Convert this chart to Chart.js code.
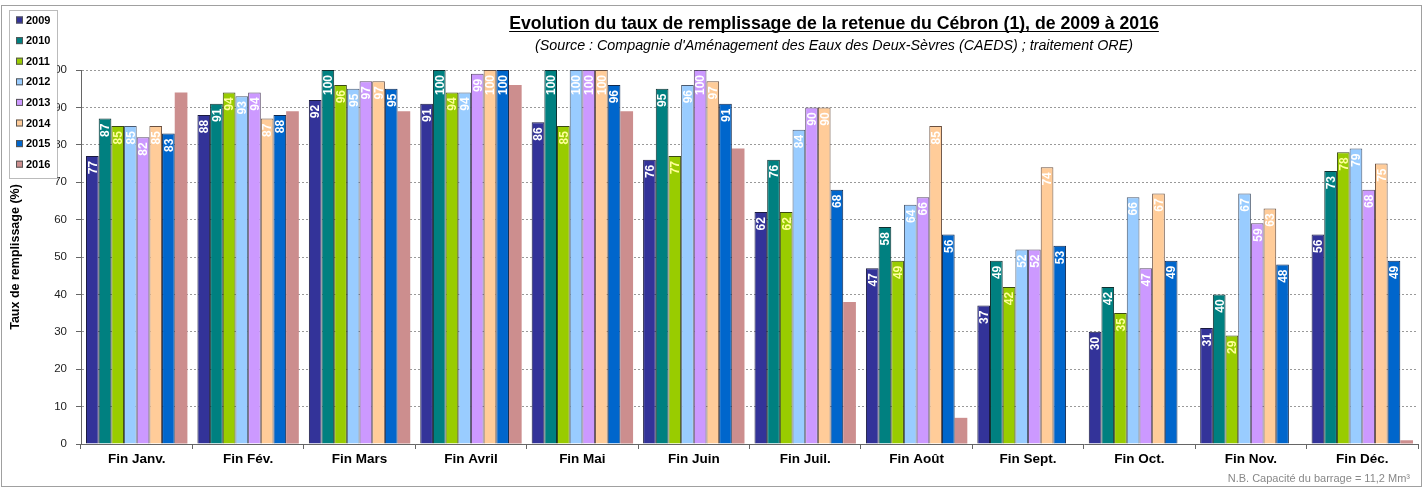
<!DOCTYPE html>
<html>
<head>
<meta charset="utf-8">
<script src="https://cdn.jsdelivr.net/npm/chart.js@4.4.0/dist/chart.umd.min.js"></script>
<style>
    html, body { margin: 0; padding: 0; background: #fff; }
    #wrap { width: 1424px; height: 488px; position: relative; }
</style>
</head>
<body>
<div id="wrap"><canvas id="chart"></canvas></div>
<script>
// Data
const months = ['Fin Janv.', 'Fin Fév.', 'Fin Mars', 'Fin Avril', 'Fin Mai', 'Fin Juin',
    'Fin Juil.', 'Fin Août', 'Fin Sept.', 'Fin Oct.', 'Fin Nov.', 'Fin Déc.'];
const years = ['2009', '2010', '2011', '2012', '2013', '2014', '2015', '2016'];
const v2009 = [77, 88, 92, 91, 86, 76, 62, 47, 37, 30, 31, 56];
const v2010 = [87, 91, 100, 100, 100, 95, 76, 58, 49, 42, 40, 73];
const v2011 = [85, 94, 96, 94, 85, 77, 62, 49, 42, 35, 29, 78];
const v2012 = [85, 93, 95, 94, 100, 96, 84, 64, 52, 66, 67, 79];
const v2013 = [82, 94, 97, 99, 100, 100, 90, 66, 52, 47, 59, 68];
const v2014 = [85, 87, 97, 100, 100, 97, 90, 85, 74, 67, 63, 75];
const v2015 = [83, 88, 95, 100, 96, 91, 68, 56, 53, 49, 48, 49];
const v2016 = [94, 89, 89, 96, 89, 79, 38, 7, null, null, null, 1];
const yTicks = [0, 10, 20, 30, 40, 50, 60, 70, 80, 90, 100];

const seriesValues = [v2009, v2010, v2011, v2012, v2013, v2014, v2015, v2016];
const fillColors = ['#333399', '#008080', '#99cc00', '#99ccff', '#cc99ff', '#ffcc99', '#0066cc', '#cc8e8e'];
const edgeColors = ['#1a1a40', '#103030', '#3a4a10', '#4a5a70', '#5a4a6a', '#6a5040', '#102a50', '#cc8e8e'];
const labelColors = ['#ffffff', '#ffffff', '#ffff99', '#ffffff', '#ffffff', '#ffffff', '#ffffff', null];

const FONT = '"Liberation Sans", Arial, sans-serif';

// Value labels, rotated, inside the top of each bar
const valueLabels = {
    id: 'valueLabels',
    afterDatasetsDraw(chart) {
        const ctx = chart.ctx;
        chart.data.datasets.forEach((ds, di) => {
            if (!labelColors[di]) return;
            const meta = chart.getDatasetMeta(di);
            meta.data.forEach((bar, i) => {
                const val = ds.data[i];
                if (val === null) return;
                ctx.save();
                ctx.translate(bar.x + 1, bar.y + 5);
                ctx.rotate(-Math.PI / 2);
                ctx.font = 'bold 12px ' + FONT;
                ctx.fillStyle = labelColors[di];
                ctx.textAlign = 'right';
                ctx.textBaseline = 'middle';
                ctx.fillText(String(val), 0, 0);
                ctx.restore();
            });
        });
    }
};

// Frame, titles, legend box and note
const decorations = {
    id: 'decorations',
    afterDraw(chart) {
        const ctx = chart.ctx;
        ctx.save();

        ctx.strokeStyle = '#a0a0a0';
        ctx.lineWidth = 1;
        ctx.strokeRect(1.5, 5.5, 1420, 481);

        // title
        ctx.fillStyle = '#000';
        ctx.font = 'bold 17.7px ' + FONT;
        ctx.textAlign = 'center';
        ctx.textBaseline = 'alphabetic';
        const title = 'Evolution du taux de remplissage de la retenue du Cébron (1), de 2009 à 2016';
        ctx.fillText(title, 834, 29);
        const tw = ctx.measureText(title).width;
        ctx.beginPath();
        ctx.moveTo(834 - tw / 2, 31.5);
        ctx.lineTo(834 + tw / 2, 31.5);
        ctx.strokeStyle = '#000';
        ctx.stroke();

        ctx.font = 'italic 14.3px ' + FONT;
        ctx.fillText("(Source : Compagnie d'Aménagement des Eaux des Deux-Sèvres (CAEDS) ; traitement ORE)", 834, 50);

        // note
        ctx.font = '11px ' + FONT;
        ctx.fillStyle = '#888';
        ctx.textAlign = 'right';
        ctx.fillText('N.B. Capacité du barrage = 11,2 Mm³', 1410, 482);

        // legend
        ctx.fillStyle = '#fff';
        ctx.fillRect(9, 10, 48, 168);
        ctx.setLineDash([1, 1]);
        ctx.strokeStyle = '#777';
        ctx.strokeRect(9.5, 10.5, 48, 168);
        ctx.setLineDash([]);
        ctx.font = 'bold 11px ' + FONT;
        ctx.textAlign = 'left';
        ctx.textBaseline = 'middle';
        years.forEach((y, i) => {
            const cy = 20 + i * 20.6;
            ctx.fillStyle = fillColors[i];
            ctx.fillRect(16, cy - 3.5, 7, 7);
            ctx.strokeStyle = '#555';
            ctx.strokeRect(16.5, cy - 3, 6, 6);
            ctx.fillStyle = '#000';
            ctx.fillText(y, 26, cy + 0.5);
        });
        ctx.restore();
    }
};

const datasets = years.map((y, i) => ({
    label: y,
    data: seriesValues[i],
    backgroundColor: fillColors[i],
    borderColor: edgeColors[i],
    borderWidth: i === 7 ? 0 : 1,
    categoryPercentage: 0.91,
    barPercentage: 1.0
}));

new Chart(document.getElementById('chart'), {
    type: 'bar',
    data: { labels: months, datasets: datasets },
    options: {
        responsive: true,
        maintainAspectRatio: false,
        animation: false,
        devicePixelRatio: 1,
        layout: { padding: { top: 70, right: 6, left: 0, bottom: 0 } },
        plugins: {
            legend: { display: false },
            title: { display: false },
            tooltip: { enabled: false }
        },
        scales: {
            x: {
                afterFit(scale) { scale.height = 44; },
                grid: { display: true, drawOnChartArea: false, drawTicks: true, tickLength: 5, color: '#666', offset: true },
                border: { display: true, color: '#666', width: 1 },
                ticks: { color: '#000', font: { family: FONT, size: 13.5, weight: 'bold' }, padding: 2, maxRotation: 0 }
            },
            y: {
                min: 0,
                max: 100,
                afterFit(scale) { scale.width = 81; },
                afterBuildTicks(scale) { scale.ticks = yTicks.map(v => ({ value: v })); },
                grid: { color: '#999', tickLength: 5, tickBorderDash: [], tickColor: '#666' },
                border: { display: true, color: '#666', dash: [2, 2] },
                ticks: { color: '#222', font: { family: FONT, size: 11.5 }, padding: 9 },
                title: {
                    display: true,
                    text: 'Taux de remplissage (%)',
                    color: '#000',
                    font: { family: FONT, size: 12.5, weight: 'bold' },
                    padding: { top: 8, bottom: 0 }
                }
            }
        }
    },
    plugins: [valueLabels, decorations]
});
</script>
</body>
</html>
